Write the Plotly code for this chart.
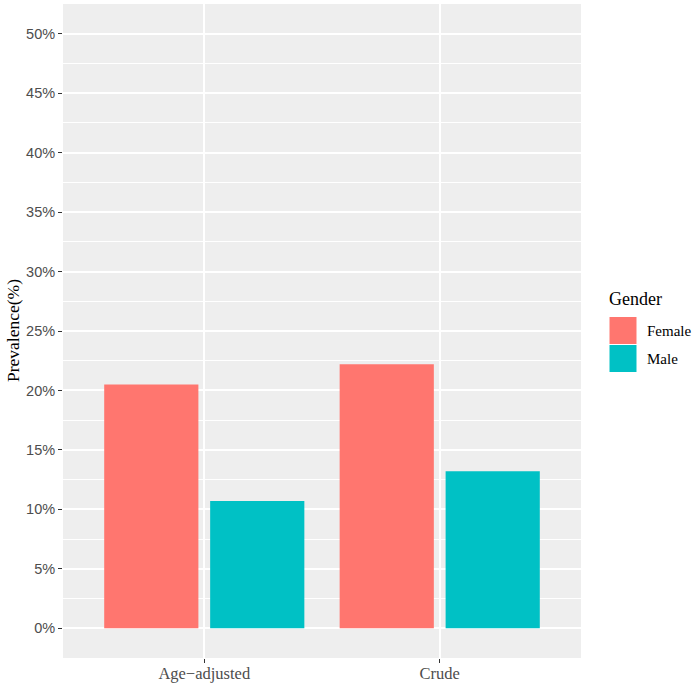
import plotly.graph_objects as go

categories = ["Age\u2212adjusted", "Crude"]
genders = ["Female", "Male"]
female_vals = [0.205, 0.222]
male_vals = [0.107, 0.132]
colors = {"Female": "#FF766F", "Male": "#00C1C5"}

W, H = 693, 686
L, R, T, B = 63, 581, 4, 658  # panel pixel box
pw, ph = R - L, B - T

def px_x(p):
    return (p - L) / pw

def px_y(p):
    return (B - p) / ph

fig = go.Figure()
for g, vals in zip(genders, [female_vals, male_vals]):
    fig.add_trace(go.Bar(x=categories, y=vals, name=g, marker_color=colors[g],
                         marker_line_width=0, showlegend=False))

fig.update_layout(
    width=W, height=H,
    margin=dict(l=L, r=W - R, t=T, b=H - B, autoexpand=False),
    paper_bgcolor="white", plot_bgcolor="#EEEEEE",
    barmode="group", bargap=0.1, bargroupgap=0.111,
    font=dict(family="Liberation Sans, Arial", color="#4D4D4D"),
)
fig.update_xaxes(
    range=[-0.6, 1.6], showgrid=True, gridcolor="white", gridwidth=1.8,
    ticks="outside", ticklen=4, tickcolor="#333333", tickwidth=1,
    tickfont=dict(family="Liberation Serif, Times New Roman", size=16.5, color="#4D4D4D"),
    ticklabelstandoff=-4,
    zeroline=False, showline=False, automargin=False,
)
fig.update_yaxes(
    range=[-0.025, 0.525], tick0=0, dtick=0.05, tickformat=".0%",
    showgrid=True, gridcolor="white", gridwidth=1.8,
    minor=dict(tick0=0, dtick=0.025, showgrid=True, gridcolor="white", gridwidth=0.9, ticklen=0),
    ticks="outside", ticklen=4, tickcolor="#333333", tickwidth=1,
    tickfont=dict(family="Liberation Sans, Arial", size=14.5, color="#4D4D4D"),
    zeroline=False, showline=False, automargin=False,
)

# axis title
fig.add_annotation(text="Prevalence(%)", xref="paper", yref="paper",
                   x=px_x(13), y=px_y(331), xanchor="center", yanchor="middle",
                   textangle=-90, showarrow=False,
                   font=dict(family="Liberation Serif, Times New Roman", size=17.5, color="black"))

# legend
fig.add_annotation(text="Gender", xref="paper", yref="paper",
                   x=px_x(607), y=px_y(299), xanchor="left", yanchor="middle",
                   showarrow=False,
                   font=dict(family="Liberation Serif, Times New Roman", size=18, color="black"))
key_tops = [317, 345]
for g, top in zip(genders, key_tops):
    fig.add_shape(type="rect", xref="paper", yref="paper",
                  x0=px_x(609.5), x1=px_x(636.5), y0=px_y(top), y1=px_y(top + 27),
                  fillcolor=colors[g], line_width=0)
    fig.add_annotation(text=g, xref="paper", yref="paper",
                       x=px_x(645), y=px_y(top + 14), xanchor="left", yanchor="middle",
                       showarrow=False,
                       font=dict(family="Liberation Serif, Times New Roman", size=15, color="black"))

fig.write_html("out.html")
